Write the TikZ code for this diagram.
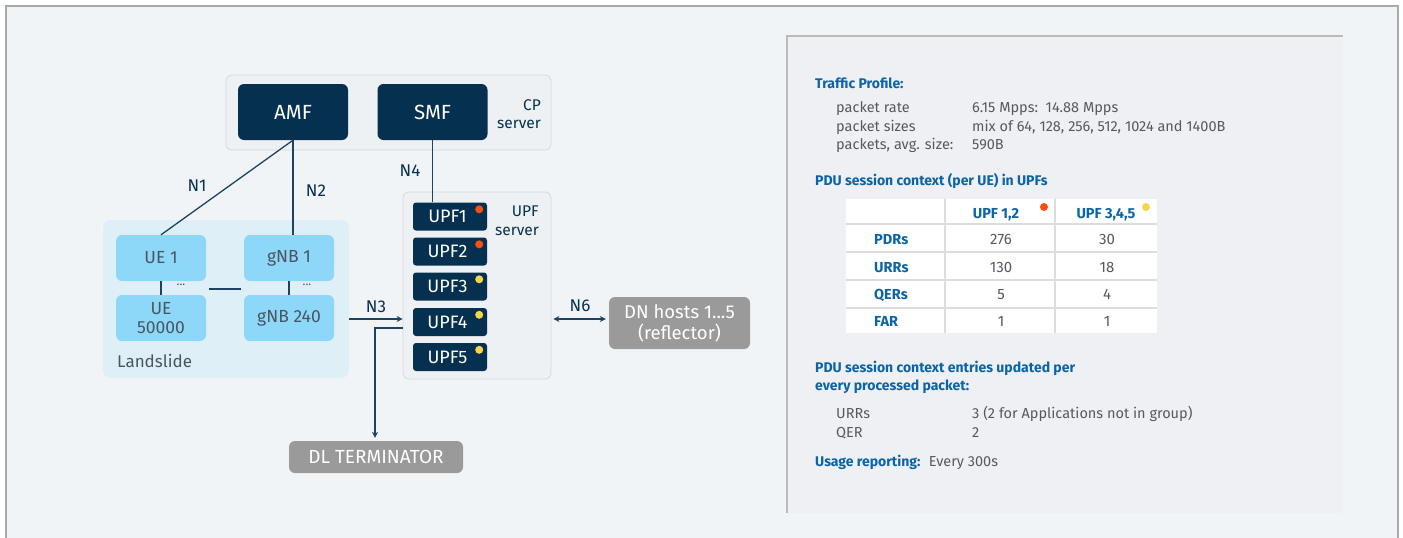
\documentclass[tikz,border=0pt]{standalone}
\usepackage{fontspec}
\setmainfont{Fira Sans}
\usetikzlibrary{arrows.meta,calc}
\definecolor{navy}{HTML}{06304F}
\definecolor{lineC}{HTML}{1E4263}
\definecolor{ltblue}{HTML}{8DD8F8}
\definecolor{lsbg}{HTML}{DFEFF7}
\definecolor{boxtxt}{HTML}{4A5562}
\definecolor{grayb}{HTML}{9A9A9A}
\definecolor{headC}{HTML}{0B63A8}
\definecolor{bodyC}{HTML}{555A60}
\definecolor{pageC}{HTML}{F1F4F6}
\definecolor{frameC}{HTML}{A9A9A9}
\definecolor{panelC}{HTML}{EEF0F3}
\definecolor{srvC}{HTML}{EEF1F3}
\definecolor{srvB}{HTML}{D6DADE}
\definecolor{dotR}{HTML}{FF4F0F}
\definecolor{dotY}{HTML}{F6D54A}
\definecolor{tblL}{HTML}{DADDE0}
\tikzset{
  navybox/.style={fill=navy, rounded corners=6pt, text=white, inner sep=0pt},
  bigbox/.style={navybox, minimum width=110pt, minimum height=56pt, font=\fontsize{20.5}{24}\selectfont},
  upfbox/.style={navybox, rounded corners=3pt, minimum width=74pt, minimum height=28pt, font=\fontsize{18}{20}\selectfont},
  lbbox/.style={fill=ltblue, rounded corners=6pt, text=boxtxt, inner sep=0pt, minimum width=90pt, minimum height=46pt, font=\fontsize{17.5}{20}\selectfont, align=center},
  graybox/.style={fill=grayb, rounded corners=6pt, text=white, inner sep=0pt, align=center},
  srv/.style={fill=srvC, draw=srvB, line width=0.8pt, rounded corners=6pt, inner sep=0pt},
  conn/.style={draw=lineC, line width=1.3pt},
  arr/.style={conn, -{Stealth[length=6pt,width=6pt]}},
  darr/.style={conn, {Stealth[length=6pt,width=6pt]}-{Stealth[length=6pt,width=6pt]}},
  lbl/.style={text=navy, font=\fontsize{17}{19}\selectfont, inner sep=0pt},
  srvlbl/.style={text=navy, font=\fontsize{15.5}{18.5}\selectfont, inner sep=0pt, align=right},
  dotr/.style={circle, fill=dotR, inner sep=0pt, minimum size=8pt},
  doty/.style={circle, fill=dotY, inner sep=0pt, minimum size=8pt},
  head/.style={text=headC, font=\bfseries\fontsize{14}{17}\selectfont, inner sep=0pt, anchor=base west},
  body/.style={text=bodyC, font=\fontsize{14.5}{17}\selectfont, inner sep=0pt, anchor=base west},
  tval/.style={text=bodyC, font=\fontsize{15}{17}\selectfont, inner sep=0pt, anchor=base},
}
\begin{document}
\begin{tikzpicture}[x=1pt,y=-1pt]
\useasboundingbox (0,0) rectangle (1403,538);
% page frame
\fill[white] (0,0) rectangle (1403,538);
\fill[pageC] (6,6) rectangle (1398,538);
\draw[frameC, line width=1.5pt] (6,538) -- (6,6) -- (1398,6) -- (1398,538);
% right panel
\fill[panelC] (787,36) rectangle (1343,513);
\draw[frameC!80, line width=1.3pt] (787,513) -- (787,36) -- (1343,36);

% CP server
\node[srv, minimum width=325pt, minimum height=75pt] (cp) at (388.5,112.5) {};
\node[bigbox] (amf) at (293,112) {AMF};
\node[bigbox] (smf) at (432.5,112) {SMF};
\node[srvlbl, anchor=east] (cplbl) at (541,114) {CP\\server};

% Landslide
\node[fill=lsbg, rounded corners=8pt, inner sep=0pt, minimum width=246pt, minimum height=158pt] (ls) at (226,299) {};
\node[lbbox] (ue1) at (161,258) {UE 1};
\node[lbbox] (ue2) at (161,318) {UE\\[-1pt]50000};
\node[lbbox] (gnb1) at (289,258) {gNB 1};
\node[lbbox] (gnb2) at (289,318) {gNB 240};
\node[text=boxtxt, font=\fontsize{17}{19}\selectfont, inner sep=0pt, anchor=west] (lslbl) at (117,361) {Landslide};
\node[text=boxtxt, font=\fontsize{12}{12}\selectfont, inner sep=0pt] (dots1) at (181,285) {...};
\node[text=boxtxt, font=\fontsize{12}{12}\selectfont, inner sep=0pt] (dots2) at (307,285) {...};
\draw[conn] (ue1) -- (ue2);
\draw[conn] (gnb1) -- (gnb2);
\coordinate (hl1) at (209,289);
\coordinate (hl2) at (241,289);
\draw[conn] (hl1) -- (hl2);

% UPF server
\node[srv, minimum width=148pt, minimum height=187pt] (upfs) at (477,285.5) {};
\node[srvlbl, anchor=east] (upflbl) at (539,221) {UPF\\server};
\foreach \i/\y/\c in {1/216.5/dotr,2/251.5/dotr,3/286.5/doty,4/322/doty,5/357/doty}{
  \node[upfbox] (upf\i) at (450,\y) {\hspace*{-5pt}UPF\i};
  \node[\c] (dot\i) at ($(upf\i.north east)+(-8,7)$) {};
}

% other boxes
\node[graybox, font=\fontsize{19}{22}\selectfont, minimum width=174pt, minimum height=32pt] (dlt) at (376,457) {DL TERMINATOR};
\node[graybox, font=\fontsize{18.5}{21}\selectfont, minimum width=141pt, minimum height=52pt] (dn) at (679.5,323) {DN hosts 1...5\\(reflector)};

% connectors
\draw[conn] (amf.south) -- (ue1.north);
\draw[conn] (amf.south) -- (amf.south |- gnb1.north);
\draw[conn] (smf.south) -- (smf.south |- upf1.north);
\node[lbl] (n1) at (197,186) {N1};
\node[lbl] (n2) at (316,191) {N2};
\node[lbl] (n4) at (410,171) {N4};

\coordinate (n3s) at (ls.east |- 0,319);
\draw[arr] (n3s) -- (upfs.west |- n3s);
\node[lbl] (n3) at (376,307) {N3};

\coordinate (dls) at (upfs.west |- 0,328);
\draw[arr] (dls) -| ($(dlt.north)+(-1,-3)$);

\coordinate (n6s) at (upfs.east |- 0,319);
\draw[darr] ($(n6s)+(2,0)$) -- ($(dn.west |- n6s)+(-3,0)$);
\node[lbl] (n6) at (580,306) {N6};

% right panel text
\node[head] (tp) at (815,88) {Traffic Profile:};
\node[body] at (836,112) {packet rate};
\node[body] at (836,131) {packet sizes};
\node[body] at (836,149) {packets, avg. size:};
\node[body] at (972,112) {6.15 Mpps:\ \ 14.88 Mpps};
\node[body] at (972,131) {mix of 64, 128, 256, 512, 1024 and 1400B};
\node[body] at (972,149) {590B};
\node[head] (pdu) at (815,185) {PDU session context (per UE) in UPFs};

% table
\fill[white] (846,199) rectangle (1157,333);
\draw[tblL, line width=1.5pt] (945,199) -- (945,333) (1055,199) -- (1055,333);
\foreach \yy in {224,252,280,308}{\draw[tblL, line width=1.5pt] (846,\yy) -- (1157,\yy);}
\node[head, font=\bfseries\fontsize{14.5}{17}\selectfont, anchor=base] at (996,218) {UPF 1,2};
\node[head, font=\bfseries\fontsize{14.5}{17}\selectfont, anchor=base] at (1106,218) {UPF 3,4,5};
\node[dotr] at (1044,207) {};
\node[doty] at (1146,207) {};
\foreach \lab/\a/\b/\yy in {PDRs/276/30/244, URRs/130/18/272, QERs/5/4/299, FAR/1/1/326}{
  \node[head, font=\bfseries\fontsize{14.5}{17}\selectfont] at (874,\yy) {\lab};
  \node[tval] at (1001,\yy) {\a};
  \node[tval] at (1107,\yy) {\b};
}

\node[head] at (815,372) {PDU session context entries updated per};
\node[head] at (815,390) {every processed packet:};
\node[body] at (836,418) {URRs};
\node[body] at (836,437) {QER};
\node[body] at (972,418) {3 (2 for Applications not in group)};
\node[body] at (972,437) {2};
\node[head] (usage) at (815,466) {Usage reporting:};
\node[body, anchor=base west] (every) at ($(usage.base east)+(8,0)$) {Every 300s};
\end{tikzpicture}
\end{document}
